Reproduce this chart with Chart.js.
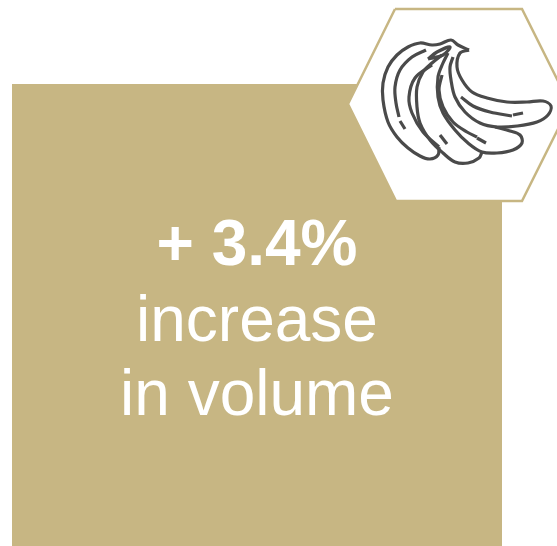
<!DOCTYPE html>
<html>
<head>
<meta charset="utf-8">
<script src="https://cdn.jsdelivr.net/npm/chart.js@4"></script>
<style>
  html, body { margin: 0; padding: 0; background: #fff; }
  canvas { display: block; }
</style>
</head>
<body>
<canvas id="volumeCard" width="557" height="546"></canvas>
<script>
// text lines of the card
const headline = "+ 3.4%";
const captionLines = ["increase", "in volume"];

// panel and hexagon outlines, x/y on the page scale
const panel = [[12, 84], [502, 84], [502, 546], [12, 546], [12, 84]];
const hexagon = [[395, 9], [522, 9], [570, 105], [522, 201], [396, 201], [348, 104], [395, 9]];

// banana bunch strokes
const outerBanana = [[469, 50], [458, 45], [451, 40], [440, 44], [432, 45], [420, 43], [408, 47], [397, 55], [388, 67], [383, 83], [383, 100], [388, 122], [397, 137], [408, 148], [420, 156], [430, 159], [438, 155], [439, 147]];
const topBanana = [[469, 50], [460, 53], [457, 67], [462, 80], [472, 92], [487, 98], [507, 102], [527, 102], [543, 101], [551, 106], [548, 115], [537, 122], [517, 126], [497, 127], [480, 123], [465, 112], [455, 97], [451, 80], [450, 67], [453, 57]];
const lowerBanana = [[495, 127], [510, 131], [520, 135], [522, 143], [513, 150], [497, 153], [482, 152], [468, 143], [455, 130], [443, 113], [438, 97], [438, 77], [443, 63], [448, 53]];
const middleBanana = [[482, 152], [479, 158], [468, 163], [455, 162], [443, 153], [430, 140], [420, 123], [417, 107], [417, 87], [423, 72], [432, 63], [442, 55]];
const innerBanana = [[432, 65], [415, 78], [409, 97], [412, 113], [423, 132], [439, 147]];
const ridgeOuter = [[426, 50], [412, 57], [400, 70], [395, 87], [396, 103], [399, 117]];
const ridgeOuterDash = [[400, 121], [405, 129]];
const ridgeTop = [[461, 97], [473, 106], [490, 112], [512, 116]];
const ridgeTopDash = [[513, 115], [523, 113]];
const ridgeLower = [[442, 75], [439, 90], [443, 107], [453, 122], [467, 132], [477, 137]];
const ridgeLowerDash = [[477, 138], [486, 143]];
const ridgeMiddleDash = [[440, 135], [447, 144]];
const stemKnot = [[428, 59], [437, 52], [450, 47], [443, 55], [428, 59]];

const tan = "#C7B683";
const ink = "#4A4A4A";

const toPoints = (pts) => pts.map(([x, y]) => ({ x, y }));

function stroke(pts) {
  return {
    data: toPoints(pts),
    borderColor: ink,
    borderWidth: 3.2,
    tension: 0.35,
    fill: false,
    pointRadius: 0,
    soft: true,
  };
}

// the bunch is a scanned drawing, its strokes get a slight blur
const softStrokes = {
  id: "softStrokes",
  beforeDatasetDraw(chart, args) {
    if (chart.data.datasets[args.index].soft) chart.ctx.filter = "blur(0.6px)";
  },
  afterDatasetDraw(chart) {
    chart.ctx.filter = "none";
  },
};

// card text goes on top of everything the datasets draw
const cardText = {
  id: "cardText",
  afterDatasetsDraw(chart) {
    const { ctx, scales: { x, y } } = chart;
    ctx.save();
    ctx.fillStyle = "#FFFFFF";
    ctx.textAlign = "center";
    ctx.textBaseline = "alphabetic";
    ctx.font = 'bold 64px "Liberation Sans", Arial, sans-serif';
    ctx.fillText(headline, x.getPixelForValue(257), y.getPixelForValue(265));
    ctx.font = '64px "Liberation Sans", Arial, sans-serif';
    ctx.fillText(captionLines[0], x.getPixelForValue(257), y.getPixelForValue(341));
    ctx.fillText(captionLines[1], x.getPixelForValue(257), y.getPixelForValue(415));
    ctx.restore();
  },
};

new Chart(document.getElementById("volumeCard"), {
  type: "scatter",
  data: {
    // first dataset ends up on top
    datasets: [
      stroke(outerBanana),
      stroke(topBanana),
      stroke(lowerBanana),
      stroke(middleBanana),
      stroke(innerBanana),
      stroke(ridgeOuter),
      stroke(ridgeOuterDash),
      stroke(ridgeTop),
      stroke(ridgeTopDash),
      stroke(ridgeLower),
      stroke(ridgeLowerDash),
      stroke(ridgeMiddleDash),
      stroke(stemKnot),
      {
        data: toPoints(hexagon),
        borderColor: tan,
        borderWidth: 2.5,
        backgroundColor: "#FFFFFF",
        fill: "shape",
        tension: 0,
        pointRadius: 0,
      },
      {
        data: toPoints(panel),
        borderWidth: 0,
        backgroundColor: tan,
        fill: "shape",
        tension: 0,
        pointRadius: 0,
      },
    ].map((d) => ({ showLine: true, ...d })),
  },
  options: {
    responsive: false,
    animation: false,
    layout: { padding: 0 },
    scales: {
      x: { type: "linear", display: false, min: 0, max: 557 },
      y: { type: "linear", display: false, min: 0, max: 546, reverse: true },
    },
    plugins: {
      legend: { display: false },
      title: { display: false },
      tooltip: { enabled: false },
    },
  },
  plugins: [softStrokes, cardText],
});
</script>
</body>
</html>
